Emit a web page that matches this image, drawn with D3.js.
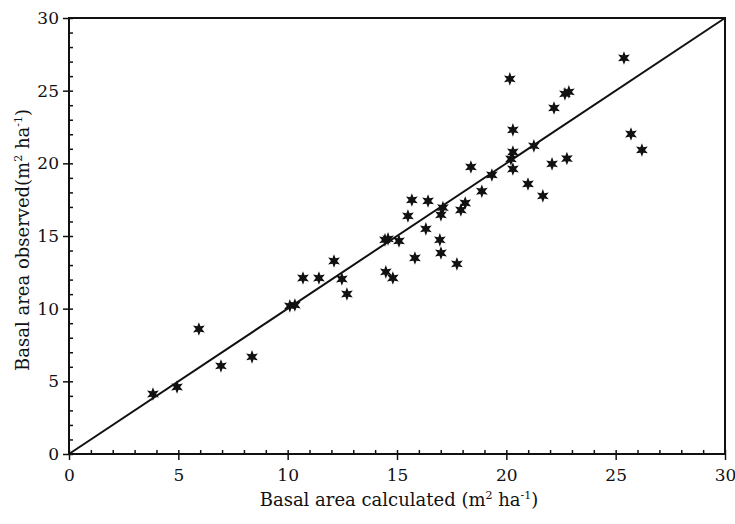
<!DOCTYPE html>
<html lang="en">
<head>
<meta charset="UTF-8">
<title>Basal area observed vs calculated</title>
<script src="https://d3js.org/d3.v7.min.js"></script>
<style>
    body { margin: 0; background: #fff; }
    svg { display: block; }
    text { font-family: "DejaVu Serif", "Liberation Serif", serif; fill: #111; }
</style>
</head>
<body>
<script>
    // values
    var calculated = [3.84, 4.94, 5.94, 6.95, 8.37, 10.1, 10.33, 10.7, 11.43, 12.12, 12.48, 12.71,
        14.45, 14.59, 14.49, 14.81, 15.09, 15.5, 15.68, 16.42, 16.32, 17.01, 17.1, 16.96, 17.01,
        15.82, 17.74, 17.92, 18.12, 18.88, 18.38, 19.34, 20.16, 20.3, 20.3, 20.21, 20.3, 21.26,
        22.09, 22.77, 20.99, 21.67, 22.18, 22.68, 22.86, 25.38, 25.7, 26.2]
    var observed = [4.13, 4.61, 8.6, 6.06, 6.68, 10.19, 10.25, 12.11, 12.11, 13.28, 12.04, 11.01,
        14.73, 14.8, 12.53, 12.11, 14.66, 16.38, 17.48, 17.41, 15.49, 16.45, 16.95, 14.73, 13.83,
        13.49, 13.08, 16.79, 17.27, 18.08, 19.75, 19.2, 25.81, 22.3, 20.78, 20.3, 19.61, 21.2,
        19.96, 20.33, 18.58, 17.76, 23.81, 24.78, 24.92, 27.25, 22.02, 20.92]
    var tickValues = [0, 5, 10, 15, 20, 25, 30]
    var lineEnds = [0, 30]

    var w = 735, h = 524
    var padL = 69, padR = 725, padT = 18, padB = 454

    var svg = d3.select('body').append('svg')
        .attr('width', w)
        .attr('height', h)

    var x = d3.scaleLinear().domain([0, 30]).range([padL, padR])
    var y = d3.scaleLinear().domain([0, 30]).range([padB, padT])

    // frame
    svg.append('rect')
        .attr('x', padL).attr('y', padT)
        .attr('width', padR - padL).attr('height', padB - padT)
        .attr('fill', 'none').attr('stroke', '#111').attr('stroke-width', 2)

    // minor ticks pointing in, major ticks pointing out
    var minor = d3.range(0, 31)
    var xMinor = d3.axisTop(x).tickValues(minor).tickSize(4).tickFormat('')
    var yMinor = d3.axisRight(y).tickValues(minor).tickSize(4).tickFormat('')
    svg.append('g').attr('transform', 'translate(0,' + padB + ')').call(xMinor)
    svg.append('g').attr('transform', 'translate(' + padL + ',0)').call(yMinor)

    var xAxis = d3.axisBottom(x).tickValues(tickValues).tickSize(6).tickPadding(9)
    var yAxis = d3.axisLeft(y).tickValues(tickValues).tickSize(6).tickPadding(4)
    svg.append('g').attr('class', 'xax').attr('transform', 'translate(0,' + padB + ')').call(xAxis)
    svg.append('g').attr('class', 'yax').attr('transform', 'translate(' + padL + ',0)').call(yAxis)

    svg.selectAll('.domain').remove()
    svg.selectAll('.tick line').attr('stroke', '#111').attr('stroke-width', 1.5)
    svg.selectAll('.tick text')
        .style('font-family', '"DejaVu Serif", serif')
        .style('font-size', '17px')
        .attr('fill', '#111')

    // 1:1 line
    svg.append('line')
        .attr('x1', x(lineEnds[0])).attr('y1', y(lineEnds[0]))
        .attr('x2', x(lineEnds[1])).attr('y2', y(lineEnds[1]))
        .attr('stroke', '#111').attr('stroke-width', 2)

    // six-pointed star markers
    var starPts = d3.range(12).map(function(i) {
        return [i * Math.PI / 6, i % 2 == 0 ? 6.8 : 3.1]
    })
    var star = d3.lineRadial().curve(d3.curveLinearClosed)(starPts)

    svg.selectAll('path.pt')
        .data(calculated)
        .enter()
        .append('path')
        .attr('class', 'pt')
        .attr('d', star)
        .attr('transform', function(d, i) { return 'translate(' + x(d) + ',' + y(observed[i]) + ')' })
        .attr('fill', '#111')

    // axis titles
    var xt = svg.append('text')
        .attr('x', (padL + padR) / 2 + 2)
        .attr('y', 506)
        .attr('text-anchor', 'middle')
        .style('font-size', '18px')
    xt.append('tspan').text('Basal area calculated (m')
    xt.append('tspan').text('2').attr('dy', -7).style('font-size', '11px')
    xt.append('tspan').text(' ha').attr('dy', 7)
    xt.append('tspan').text('-1').attr('dy', -7).style('font-size', '11px')
    xt.append('tspan').text(')').attr('dy', 7)

    var yt = svg.append('text')
        .attr('transform', 'translate(29,' + ((padT + padB) / 2 + 4) + ') rotate(-90)')
        .attr('text-anchor', 'middle')
        .style('font-size', '18px')
    yt.append('tspan').text('Basal area observed(m')
    yt.append('tspan').text('2').attr('dy', -7).style('font-size', '11px')
    yt.append('tspan').text(' ha').attr('dy', 7)
    yt.append('tspan').text('-1').attr('dy', -7).style('font-size', '11px')
    yt.append('tspan').text(')').attr('dy', 7)
</script>
</body>
</html>
